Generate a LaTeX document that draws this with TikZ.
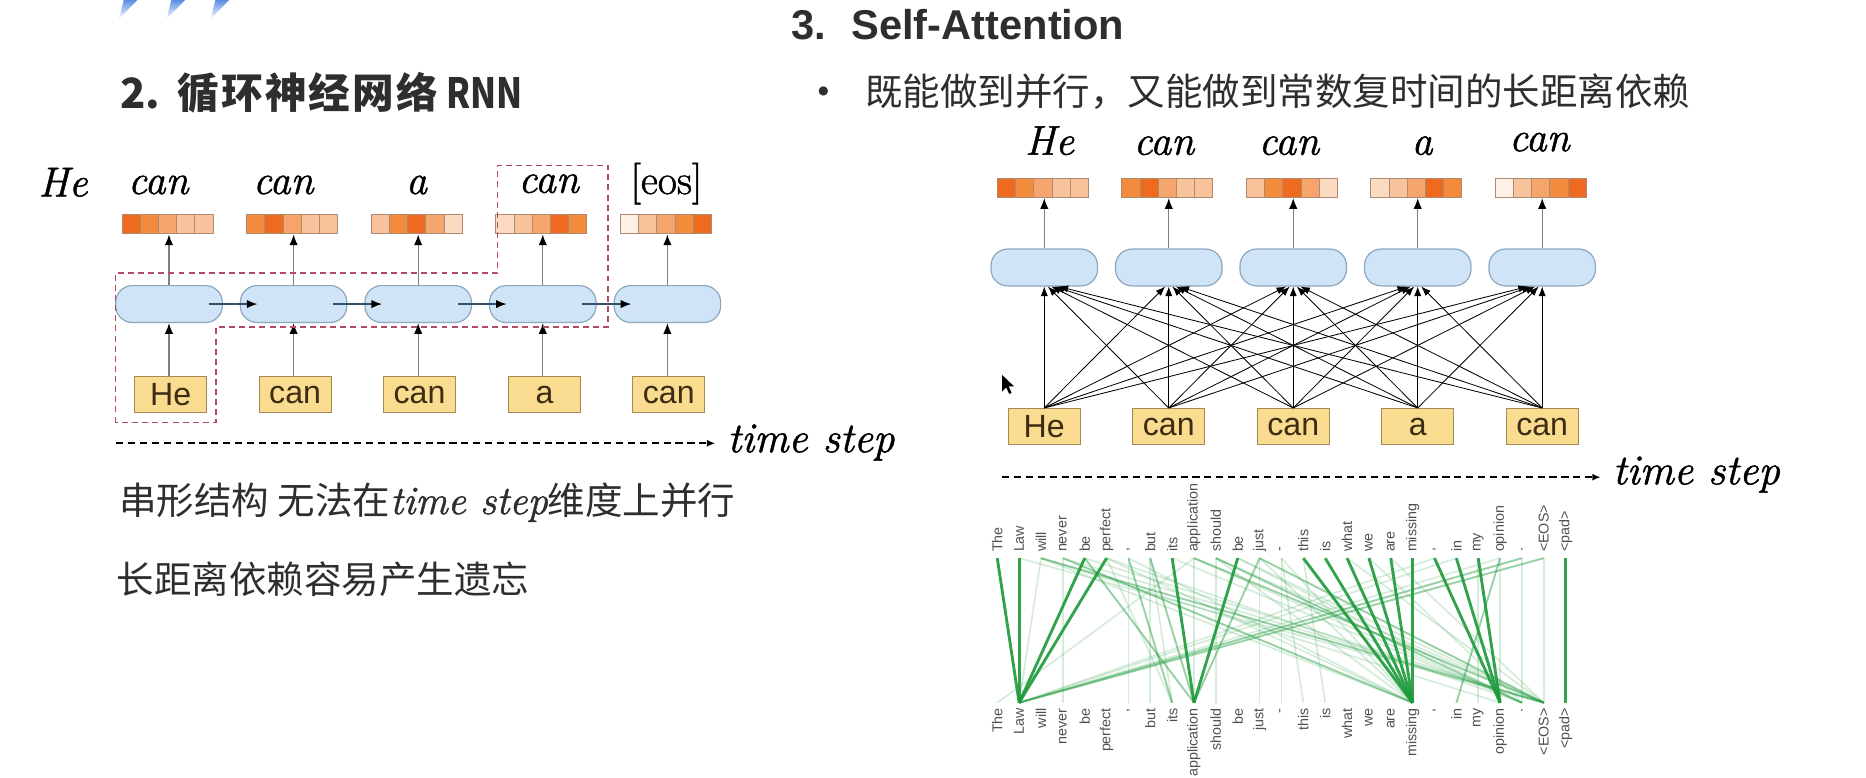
\documentclass[tikz,border=0pt]{standalone}
\usepackage{fontspec}
\usepackage{graphicx}
\usetikzlibrary{arrows.meta,calc}
\newfontfamily\sansf{Liberation Sans}
\newfontfamily\cjkf{Noto Sans CJK SC}
\newfontfamily\cjkwide{Noto Sans CJK SC}[LetterSpace=5]
\newfontfamily\lblit{Latin Modern Roman}[FakeBold=1.2]
\definecolor{txt}{HTML}{2E2E2E}
\definecolor{cellfill}{HTML}{D0E4F7}
\definecolor{celldraw}{HTML}{8DA6BF}
\definecolor{boxfill}{HTML}{FADC90}
\definecolor{boxdraw}{HTML}{A68A55}
\definecolor{boxtxt}{HTML}{3B2C12}
\definecolor{dashred}{HTML}{B04A66}
\definecolor{hline}{HTML}{34506B}
\definecolor{arrgray}{HTML}{808080}
\definecolor{attg}{HTML}{1C9A3A}
\definecolor{barline}{HTML}{B08A70}
\definecolor{logob}{HTML}{3F78E0}
\definecolor{lblgray}{HTML}{505050}
\definecolor{oa}{HTML}{EE6A1E}
\definecolor{ob}{HTML}{F28C3C}
\definecolor{oc}{HTML}{F5A56C}
\definecolor{od}{HTML}{F8C29A}
\definecolor{oe}{HTML}{FADBC2}
\definecolor{of}{HTML}{FDF0E6}
\newcommand\mybar[6]{%
  \foreach \c [count=\k from 0] in {#2,#3,#4,#5,#6} {
    \fill[\c] ($(#1.north west)+(\k*15.3,0)$) rectangle ++(15.3,16.5);
    \draw[barline, line width=0.7pt] ($(#1.north west)+(\k*15.3,0)$) rectangle ++(15.3,16.5);
  }}
\begin{document}
\begin{tikzpicture}[x=1pt,y=-1pt,
  cellnode/.style={rectangle, rounded corners=14pt, fill=cellfill, draw=celldraw, line width=1pt, minimum width=89.5pt, minimum height=31pt, inner sep=0pt},
  tokbox/.style={rectangle, fill=boxfill, draw=boxdraw, line width=0.9pt, minimum width=60.5pt, minimum height=30.5pt, inner sep=0pt, font=\sansf\fontsize{27}{30}\selectfont, text=boxtxt},
  barnode/.style={rectangle, minimum width=76.5pt, minimum height=16.5pt, inner sep=0pt},
  outlbl/.style={font=\lblit\fontsize{35}{40}\selectfont\itshape, text=black, inner sep=0pt, anchor=base},
  uparrow/.style={draw=arrgray, line width=1.1pt, -{Latex[length=9pt,width=7pt,color=black]}},
  recarrow/.style={draw=hline, line width=1.4pt, -{Latex[length=9pt,width=7pt,color=black]}},
  attarrow/.style={draw=black, line width=0.7pt, -{Latex[length=8pt,width=6pt]}},
  timearrow/.style={draw=black, line width=1.5pt, dash pattern=on 6pt off 4pt, -{Latex[length=7pt,width=6pt]}},
  dashregion/.style={draw=dashred, line width=1.3pt, dash pattern=on 5pt off 3.5pt},
  cjktext/.style={anchor=base west, inner sep=0pt, text=txt, font=\cjkf\fontsize{31.5}{36}\selectfont},
  toplbl/.style={rotate=90, anchor=west, inner sep=1pt, font=\sansf\fontsize{12}{12}\selectfont, text=lblgray},
  botlbl/.style={rotate=90, anchor=east, inner sep=1pt, font=\sansf\fontsize{12}{12}\selectfont, text=lblgray},
  attline/.style={draw=attg, line width=1.4pt}
]
\useasboundingbox (0,0) rectangle (1568,653);
\fill[white] (0,0) rectangle (1568,653);

% logo fragment
\foreach \x in {100,140,177} {
  \shade[top color=logob!85, bottom color=white] (\x,16) -- (\x+15.5,0) -- (\x+4,0) -- cycle;
}

% titles
\node[anchor=base west, inner sep=0pt, text=txt, font=\cjkf\bfseries\fontsize{35}{40}\selectfont] (t2a) at (101,91) {2.};
\node[anchor=base west, inner sep=0pt, text=txt, font=\cjkwide\bfseries\fontsize{35}{40}\selectfont] (t2b) at (149,91) {循环神经网络};
\node[anchor=base west, inner sep=0pt, text=txt, font=\cjkf\bfseries\fontsize{35}{40}\selectfont] (t2c) at (375,91) {\scalebox{0.82}[1]{RNN}};
\node[anchor=base west, inner sep=0pt, text=txt, font=\sansf\bfseries\fontsize{35}{40}\selectfont] (t3) at (665,33.6) {3.\hspace{21pt}Self-Attention};
\node[anchor=base, inner sep=0pt, text=txt, font=\sansf\fontsize{28}{30}\selectfont] (bul) at (692,86) {•};
\node[cjktext] (b3) at (727,89) {既能做到并行，又能做到常数复时间的长距离依赖};

% ---------- RNN (left) ----------
\foreach \i/\x in {1/142,2/246.7,3/351.4,4/456.1,5/560.8} {
  \node[cellnode] (lc\i) at (\x,255.5) {};
  \node[barnode] (lb\i) at (\x-1,188.5) {};
}
\node[tokbox] (lx1) at (143.5,331.75) {He};
\node[tokbox] (lx2) at (248,331.75) {can};
\node[tokbox] (lx3) at (352.5,331.75) {can};
\node[tokbox] (lx4) at (457.5,331.75) {a};
\node[tokbox] (lx5) at (562,331.75) {can};
\mybar{lb1}{oa}{ob}{oc}{od}{od}
\mybar{lb2}{ob}{oa}{oc}{od}{od}
\mybar{lb3}{od}{ob}{oa}{oc}{oe}
\mybar{lb4}{oe}{od}{oc}{oa}{ob}
\mybar{lb5}{of}{od}{oc}{ob}{oa}
\foreach \i in {1,...,5} {
  \draw[uparrow] (lc\i.north) -- (lc\i.north |- lb\i.south);
  \draw[uparrow] (lc\i.south |- lx\i.north) -- (lc\i.south);
}
\foreach \i/\j in {1/2,2/3,3/4,4/5} {
  \draw[recarrow] ($(lc\i.east)+(-12,0)$) -- ($(lc\j.west)+(15,0)$);
}
\node[outlbl] (lo0) at (53,165) {He};
\node[outlbl] (lo1) at (133,163) {can};
\node[outlbl] (lo2) at (238,163) {can};
\node[outlbl] (lo3) at (350,163) {a};
\node[outlbl] (lo4) at (461,162) {can};
\node[outlbl, font=\lblit\fontsize{35}{40}\selectfont\upshape] (lo5) at (560,163) {[eos]};
\draw[dashregion] (97,355) -- (97,229.5) -- (418,229.5) -- (418,139) -- (511,139) -- (511,275) -- (181.5,275) -- (181.5,355) -- cycle;
\node[anchor=base west, inner sep=0pt, font=\lblit\fontsize{36}{40}\selectfont\itshape] (ts1) at (611,380) {time step};
\coordinate (tl0) at (97.6,372.5);
\draw[timearrow] (tl0) -- ($(ts1.west |- tl0)+(-10,0)$);
\node[cjktext] (l1) at (100,432) {串形结构 无法在{\lblit\itshape\fontsize{34}{36}\selectfont time step}维度上并行};
\node[cjktext] (l2) at (98,499) {长距离依赖容易产生遗忘};

% ---------- Self-attention (right) ----------
\foreach \i/\x in {1/877.5,2/982.1,3/1086.7,4/1191.3,5/1295.9} {
  \node[cellnode] (rc\i) at (\x,224.75) {};
  \node[barnode] (rb\i) at (\x-1,158) {};
  \node[tokbox] (rx\i) at (\x,358.5) {};
}
\node[tokbox] at (rx1) {He};
\node[tokbox] at (rx2) {can};
\node[tokbox] at (rx3) {can};
\node[tokbox] at (rx4) {a};
\node[tokbox] at (rx5) {can};
\mybar{rb1}{oa}{ob}{oc}{od}{od}
\mybar{rb2}{ob}{oa}{oc}{od}{od}
\mybar{rb3}{od}{ob}{oa}{oc}{oe}
\mybar{rb4}{oe}{od}{oc}{oa}{ob}
\mybar{rb5}{of}{od}{oc}{ob}{oa}
\foreach \i in {1,...,5} {
  \draw[uparrow] (rc\i.north) -- (rc\i.north |- rb\i.south);
  \foreach \j in {1,...,5} {
    \draw[attarrow] (rx\i.north) -- ($(rc\j.south)+({3*(\i-\j)},0)$);
  }
}
\node[outlbl] (ro1) at (882,130) {He};
\node[outlbl] (ro2) at (978,130) {can};
\node[outlbl] (ro3) at (1083,130) {can};
\node[outlbl] (ro4) at (1195,130) {a};
\node[outlbl] (ro5) at (1293.5,127) {can};
% cursor
\fill[black] (842,315) -- (842,329) -- (845.5,325.5) -- (848,331) -- (850,330) -- (847.6,324.6) -- (852,324.6) -- cycle;
\node[anchor=base west, inner sep=0pt, font=\lblit\fontsize{36}{40}\selectfont\itshape] (ts2) at (1355,407) {time step};
\coordinate (tr0) at (842,401);
\draw[timearrow] (tr0) -- ($(ts2.west |- tr0)+(-10,0)$);

% attention visualisation
\foreach \w [count=\k from 0] in {The,Law,will,never,be,perfect,{,},but,its,application,should,be,just,-,this,is,what,we,are,missing,{,},in,my,opinion,.,<EOS>,<pad>} {
  \node[toplbl] (tt\k) at (838+18.37*\k,465) {\w};
  \node[botlbl] (bt\k) at (838+18.37*\k,594) {\w};
  \coordinate (ta\k) at (838+18.37*\k,469);
  \coordinate (ba\k) at (838+18.37*\k,590.5);
}
\foreach \a/\b in {2/1,3/3,9/9,5/8,7/7,10/10,13/14,9/0,11/25,23/1,25/25,24/24,12/12,2/23,3/25,5/19,6/19,14/15,22/22,9/24,10/25,20/1,16/25,17/24,18/25,8/24,13/13,4/25,21/1,6/6,7/8,13/19,2/19,5/24,1/25,11/24,10/19,23/23,12/19} {
  \draw[attline, draw opacity=0.18] (ta\a) -- (ba\b);
}
\foreach \a/\b in {12/9,23/21,25/1,24/1,9/25,2/25,10/24,4/9,3/19,12/25,7/9,6/8} {
  \draw[attline, draw opacity=0.45, line width=1.6pt] (ta\a) -- (ba\b);
}
\foreach \a/\b in {0/1,1/1,4/1,5/1,8/9,11/9,14/19,15/19,16/19,17/19,18/19,19/19,20/23,21/23,22/23,26/26} {
  \draw[attline, draw opacity=0.9, line width=2.4pt] (ta\a) -- (ba\b);
}
\end{tikzpicture}
\end{document}
